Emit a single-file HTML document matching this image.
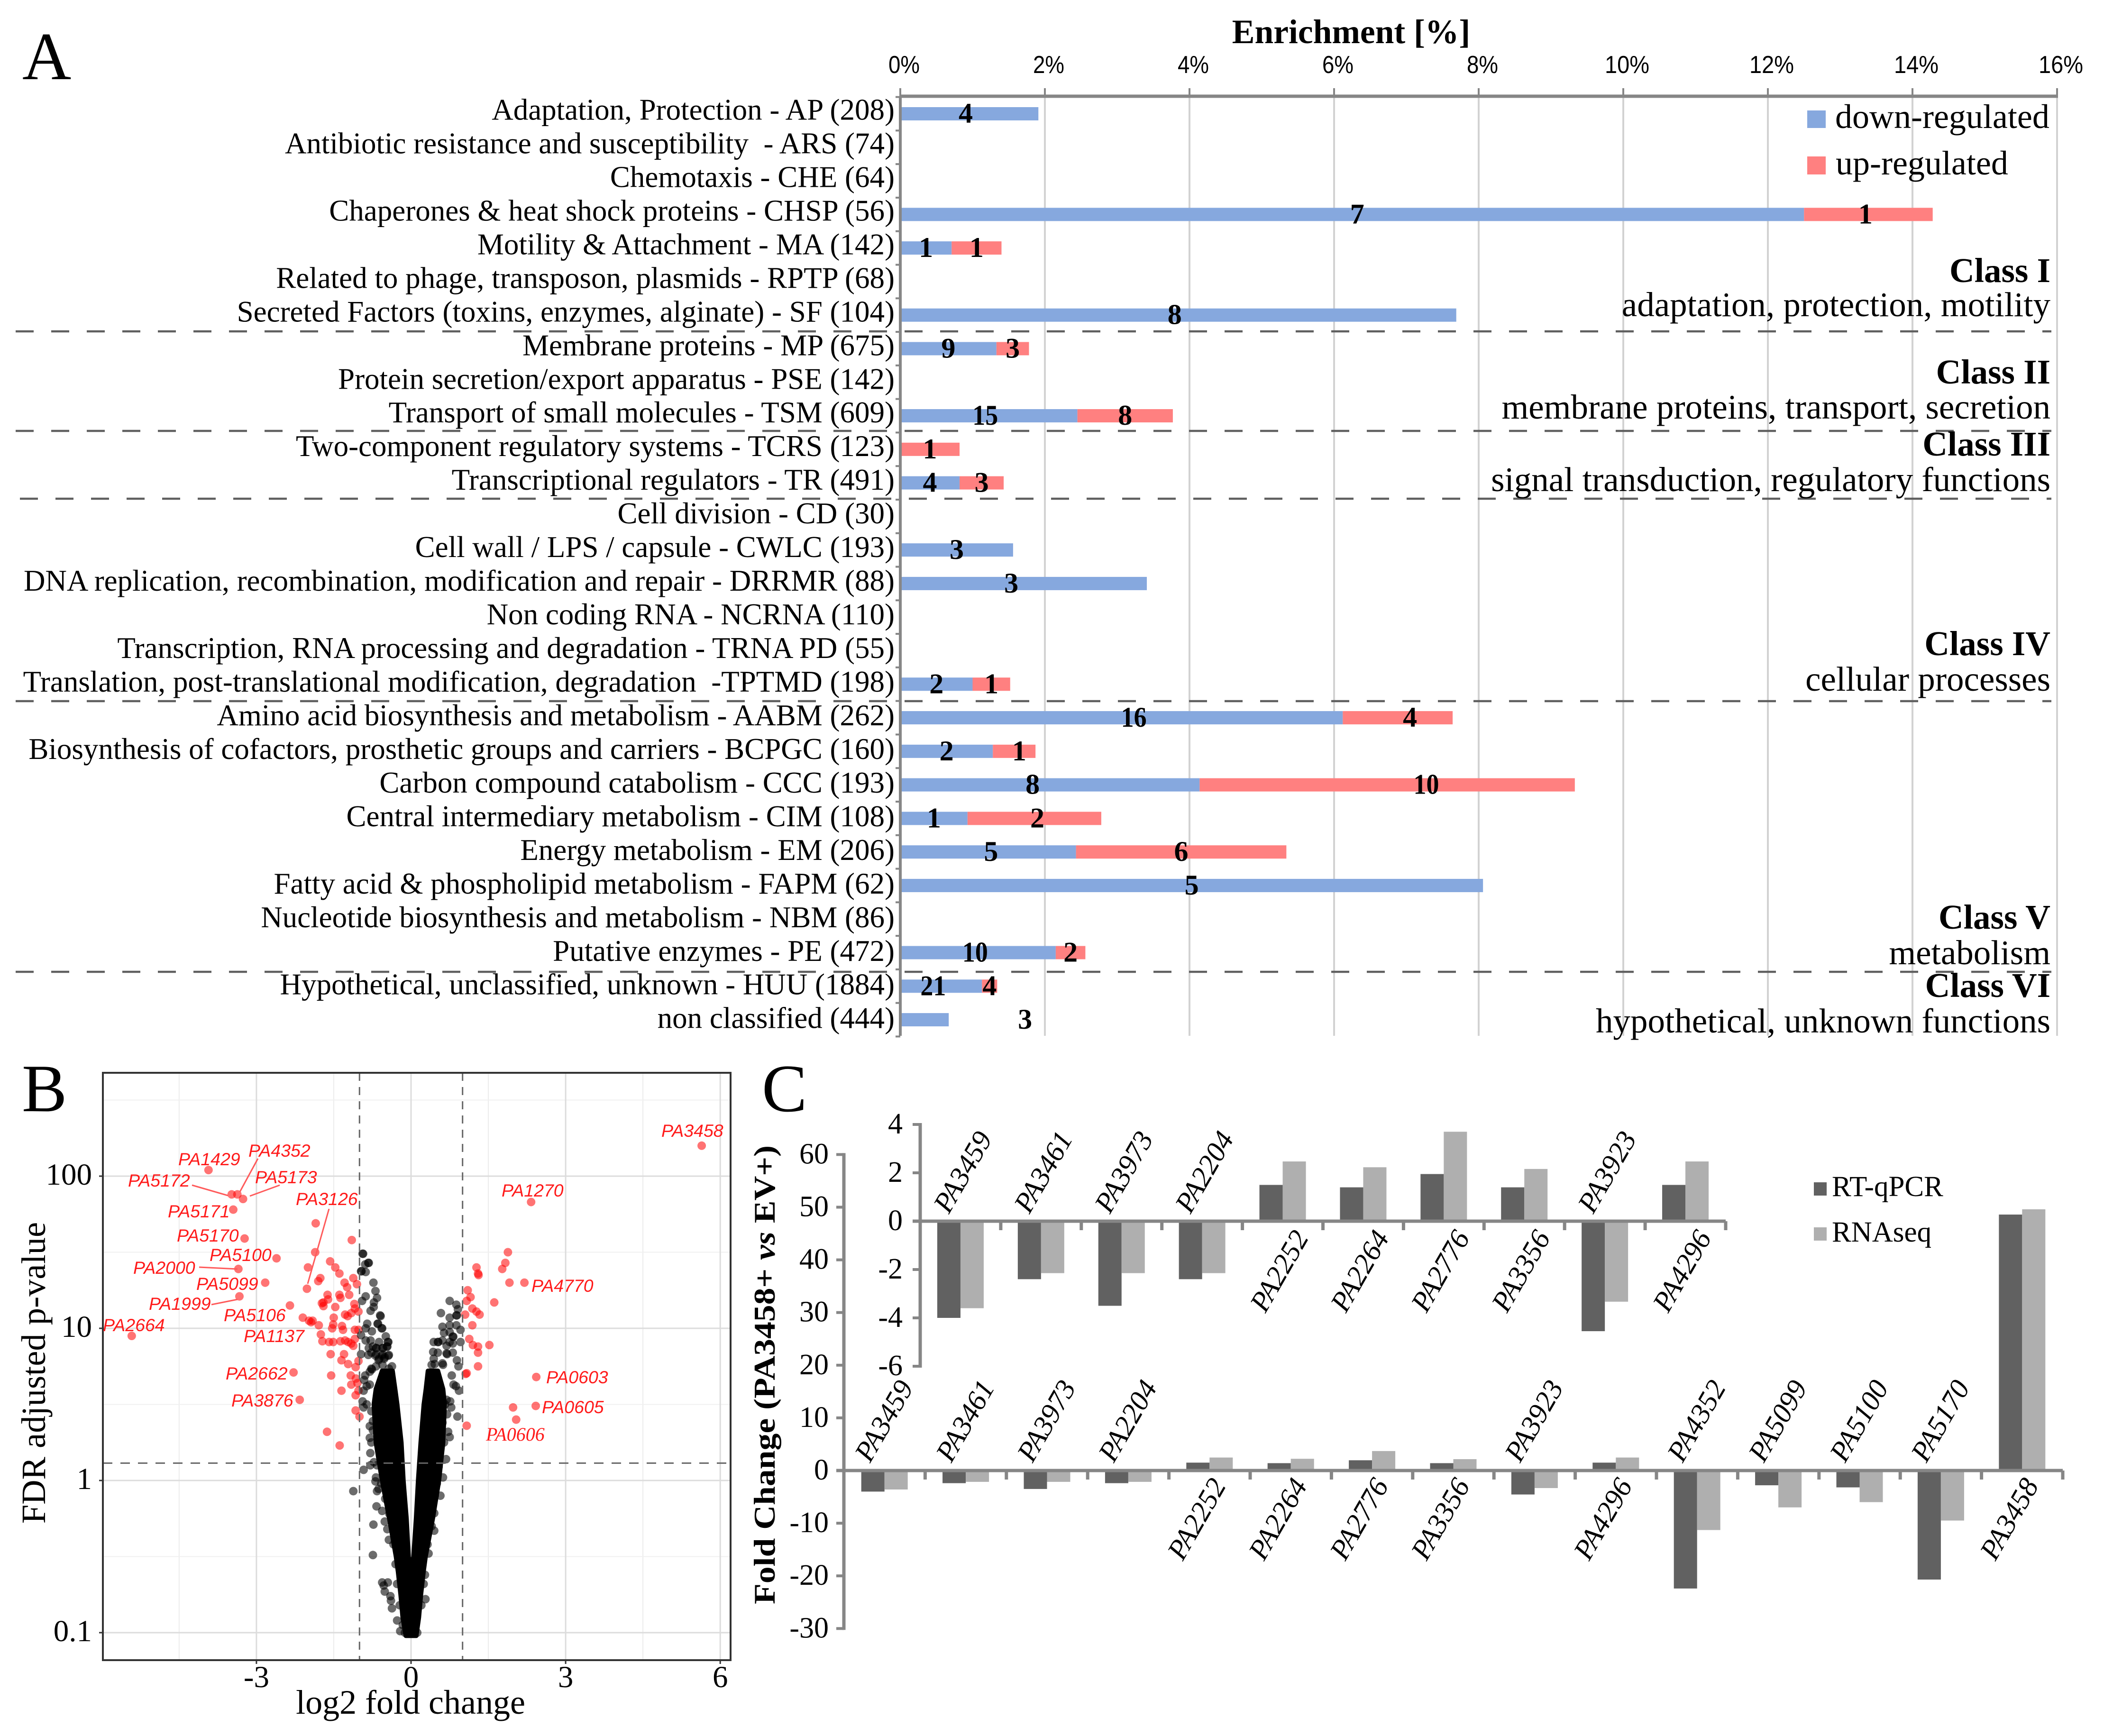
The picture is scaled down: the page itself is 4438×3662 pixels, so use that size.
<!DOCTYPE html>
<html lang="en">
<head>
<meta charset="utf-8">
<title>PA3458 enrichment, volcano plot and fold change figure</title>
<style>
html,body{margin:0;padding:0;background:#fff;}
svg{display:block;font-family:"Liberation Serif",serif;}
text{white-space:pre;}
</style>
</head>
<body>
<svg id="fig" xmlns="http://www.w3.org/2000/svg" width="4438" height="3662" viewBox="0 0 4438 3662">
<rect width="4438" height="3662" fill="#fff"/>

<!-- Panel A static -->
<text x="47" y="167" font-size="143">A</text>
<text x="2850" y="91" font-size="71.5" font-weight="bold" text-anchor="middle">Enrichment [%]</text>
<g id="panelA"></g>
<g stroke="#5f5f5f" stroke-width="4.5" stroke-dasharray="38 37">
<line x1="33" x2="4327" y1="699" y2="699"/>
<line x1="33" x2="4327" y1="909" y2="909"/>
<line x1="42" x2="4327" y1="1052" y2="1052"/>
<line x1="33" x2="4327" y1="1479" y2="1479"/>
<line x1="33" x2="4327" y1="2050" y2="2050"/>
</g>
<g>
<rect x="3812" y="233" width="39" height="37" fill="#86a8de"/>
<text x="3871" y="270" font-size="72">down-regulated</text>
<rect x="3812" y="330" width="39" height="38" fill="#ff8080"/>
<text x="3872" y="368" font-size="72">up-regulated</text>
</g>
<g text-anchor="end" font-size="73">
<text x="4325" y="595" font-weight="bold">Class I</text>
<text x="4325" y="667">adaptation, protection, motility</text>
<text x="4325" y="809" font-weight="bold">Class II</text>
<text x="4325" y="883">membrane proteins, transport, secretion</text>
<text x="4325" y="961" font-weight="bold">Class III</text>
<text x="4325" y="1036">signal transduction, regulatory functions</text>
<text x="4325" y="1382" font-weight="bold">Class IV</text>
<text x="4325" y="1457">cellular processes</text>
<text x="4325" y="1959" font-weight="bold">Class V</text>
<text x="4325" y="2034">metabolism</text>
<text x="4325" y="2103" font-weight="bold">Class VI</text>
<text x="4325" y="2178">hypothetical, unknown functions</text>
</g>

<!-- Panel B static -->
<text x="46" y="2344" font-size="143">B</text>
<text x="866" y="3615" font-size="72" text-anchor="middle">log2 fold change</text>
<text transform="translate(95,2896) rotate(-90)" font-size="72.5" text-anchor="middle">FDR adjusted p-value</text>
<g id="panelB"></g>
<g stroke="#ff5a5a" stroke-width="3" fill="none">
<line x1="405" y1="2500" x2="481" y2="2522"/>
<line x1="544" y1="2444" x2="506" y2="2514"/>
<line x1="590" y1="2500" x2="527" y2="2523"/>
<line x1="694" y1="2550" x2="649" y2="2708"/>
<line x1="420" y1="2673" x2="501" y2="2677"/>
<line x1="446" y1="2752" x2="501" y2="2741"/>
</g>
<g font-family="'Liberation Sans',sans-serif" font-style="italic" font-size="37.5" fill="#ff1a1a">
<text x="1395" y="2398">PA3458</text>
<text x="376" y="2458">PA1429</text>
<text x="524" y="2440">PA4352</text>
<text x="270" y="2503">PA5172</text>
<text x="538" y="2496">PA5173</text>
<text x="624" y="2542">PA3126</text>
<text x="1058" y="2524">PA1270</text>
<text x="354" y="2568">PA5171</text>
<text x="373" y="2619">PA5170</text>
<text x="442" y="2660">PA5100</text>
<text x="281" y="2687">PA2000</text>
<text x="414" y="2721">PA5099</text>
<text x="1121" y="2725">PA4770</text>
<text x="314" y="2763">PA1999</text>
<text x="472" y="2787">PA5106</text>
<text x="217" y="2808">PA2664</text>
<text x="514" y="2831">PA1137</text>
<text x="476" y="2910">PA2662</text>
<text x="1152" y="2918">PA0603</text>
<text x="488" y="2967">PA3876</text>
<text x="1143" y="2981">PA0605</text>
<text x="1025" y="3039" font-family="'Liberation Serif',serif" font-size="40">PA0606</text>
</g>

<!-- Panel C static -->
<text x="1607" y="2344" font-size="143">C</text>
<text transform="translate(1634,2900) rotate(-90)" font-size="64" font-weight="bold" text-anchor="middle" textLength="968" lengthAdjust="spacingAndGlyphs">Fold Change (PA3458+ <tspan font-style="italic">vs</tspan> EV+)</text>
<g id="panelC"></g>
<g>
<rect x="3826" y="2494" width="27" height="28" fill="#616161"/>
<text x="3864" y="2523" font-size="61">RT-qPCR</text>
<rect x="3826" y="2589" width="27" height="28" fill="#afafaf"/>
<text x="3864" y="2619" font-size="61">RNAseq</text>
</g>
</svg>

<script>
/* ---------- Panel A data ---------- */
const categories = [
"Adaptation, Protection - AP (208)","Antibiotic resistance and susceptibility  - ARS (74)","Chemotaxis - CHE (64)",
"Chaperones & heat shock proteins - CHSP (56)","Motility & Attachment - MA (142)","Related to phage, transposon, plasmids - RPTP (68)",
"Secreted Factors (toxins, enzymes, alginate) - SF (104)","Membrane proteins - MP (675)","Protein secretion/export apparatus - PSE (142)",
"Transport of small molecules - TSM (609)","Two-component regulatory systems - TCRS (123)","Transcriptional regulators - TR (491)",
"Cell division - CD (30)","Cell wall / LPS / capsule - CWLC (193)","DNA replication, recombination, modification and repair - DRRMR (88)",
"Non coding RNA - NCRNA (110)","Transcription, RNA processing and degradation - TRNA PD (55)",
"Translation, post-translational modification, degradation  -TPTMD (198)","Amino acid biosynthesis and metabolism - AABM (262)",
"Biosynthesis of cofactors, prosthetic groups and carriers - BCPGC (160)","Carbon compound catabolism - CCC (193)",
"Central intermediary metabolism - CIM (108)","Energy metabolism - EM (206)","Fatty acid & phospholipid metabolism - FAPM (62)",
"Nucleotide biosynthesis and metabolism - NBM (86)","Putative enzymes - PE (472)","Hypothetical, unclassified, unknown - HUU (1884)","non classified (444)"];
const downEnrichment = [1.91,0,0,12.5,0.71,0,7.69,1.33,0,2.45,0,0.82,0,1.56,3.41,0,0,1.0,6.12,1.28,4.14,0.93,2.43,8.06,0,2.15,1.13,0.67];
const upEnrichment =   [0,0,0,1.78,0.69,0,0,0.45,0,1.32,0.82,0.61,0,0,0,0,0,0.52,1.52,0.59,5.19,1.85,2.91,0,0,0.41,0.21,0];
const downCounts = [4,0,0,7,1,0,8,9,0,15,0,4,0,3,3,0,0,2,16,2,8,1,5,5,0,10,21,3];
const upCounts =   [0,0,0,1,1,0,0,3,0,8,1,3,0,0,0,0,0,1,4,1,10,2,6,0,0,2,4,0];
const enrichmentTicks = [0,2,4,6,8,10,12,14,16];

/* ---------- Panel B data (log2 fold change, log10 adjusted p) ---------- */
const volcanoXMajor = [-3,0,3,6];
const volcanoXMinor = [-4.5,-1.5,1.5,4.5];
const volcanoYMajor = [2,1,0,-1];
const volcanoYMinor = [2.5,1.5,0.5,-0.5];
const volcanoYLabels = ["100","10","1","0.1"];
const significanceLine = 1.3;
const foldChangeLines = [-1,1];
const significantLfc = [-3.93,-3.48,-3.37,-3.26,-3.45,-3.23,-2.61,-3.35,-2.83,-3.33,-5.42,-2.35,-1.85,-1.86,-2,-2.02,-1.76,-1.8,-1.57,-1.47,-1.39,-1.15,-1.12,-1.29,-1.24,-1.05,-1.39,-1.37,-1.2,-1.62,-1.61,-1.7,-1.73,-1.7,-1.47,-1.1,-1.28,-1.23,-1.16,-1.09,-1.02,-2.1,-1.98,-1.91,-1.94,-1.79,-1.5,-1.51,-1.53,-1.34,-1.32,-1.75,-1.72,-1.59,-1.51,-1.37,-1.28,-1.22,-1.16,-1.12,-1.09,-1.02,-1.09,-1.56,-1.3,-1.35,-1.22,-1.075,-1.02,-2.28,-1.55,-1.17,-1.07,-1.16,-1.04,-1.35,-1.075,-2.16,-1.075,-1,-1.63,-1.385,-1.02,
5.64,2.33,1.88,1.83,1.77,1.27,1.3,1.31,1.91,2.2,1.1,1.155,1.08,1.615,1.19,1.27,1.33,1.05,1.19,1.13,1.2,1.3,1.3,1.52,1.3,1.06,1.08,2.43,2.42,1.98,2.04,1.08];
const significantLogP = [2.04,1.88,1.88,1.85,1.78,1.59,1.46,1.39,1.3,1.21,0.95,1.15,1.69,1.5,1.4,1.26,1.33,1.31,1.44,1.4,1.36,1.58,1.33,1.3,1.27,1.29,1.22,1.2,1.22,1.22,1.19,1.17,1.165,1.146,1.14,1.16,1.09,1.08,1.1,1.13,1.11,1.07,1.05,1.05,1.04,1.02,1.07,1.025,1,1.015,0.99,0.96,0.915,0.91,0.91,0.915,0.92,0.91,0.9,0.885,0.99,0.99,0.93,0.83,0.83,0.79,0.765,0.745,0.785,0.71,0.69,0.69,0.67,0.63,0.64,0.59,0.56,0.53,0.46,0.42,0.32,0.23,0.59,
2.2,1.83,1.5,1.43,1.39,1.4,1.36,1.35,1.3,1.3,1.25,1.205,1.18,1.17,1.13,1.11,1.09,1.09,1.02,0.93,0.89,0.88,0.84,0.89,0.75,0.7,0.705,0.68,0.49,0.48,0.4,0.36];
const otherLfc = [-0.94,-0.93,-0.83,-0.82,-0.89,-0.97,-0.96,-0.88,-0.73,-0.69,-0.66,-0.88,-0.95,-0.72,-0.725,-0.785,-0.6,-0.59,-0.65,-0.64,-0.57,-0.56,-0.85,-0.76,-0.88,-0.97,-0.49,-0.45,-0.44,-0.88,-0.785,-0.62,-0.68,-0.67,-0.555,-0.54,-0.46,-0.47,-0.74,-0.82,-0.97,-0.83,-0.68,-0.69,-0.555,-0.56,-0.43,-0.44,-0.77,-0.62,-0.63,-0.51,-0.52,-0.37,-0.77,-0.76,-0.68,-0.555,-0.89,-0.91,-0.8,-0.43,-0.92,-0.8,-0.86,-0.94,-0.92,-0.86,-0.8,-0.74,-0.8,-0.77,-0.77,-0.74,
-0.79,-0.79,-0.72,-0.66,-0.92,-0.68,-0.69,-1.12,-0.66,-0.63,-0.67,-0.56,-0.51,-0.73,-0.46,-0.43,-0.74,-0.56,-0.45,-0.53,-0.51,-0.4,-0.39,-0.37,-0.27,-0.21,-0.58,-0.5,-0.42,-0.34,-0.3,-0.27,-0.22,-0.16,-0.12,-0.06,0,0.06,0.12,
0.75,0.88,0.91,0.58,0.75,0.88,0.89,0.61,0.75,0.88,0.96,0.64,0.75,0.81,0.82,0.81,0.96,0.44,0.52,0.53,0.61,0.69,0.75,0.43,0.44,0.52,0.69,0.7,0.81,0.4,0.46,0.61,0.62,0.89,0.92,0.79,0.87,0.93,0.825,0.76,0.69,0.78,0.66,0.9,0.58,0.7,0.61,0.72,0.75,0.64,
0.68,0.535,0.62,0.5,0.57,0.45,0.45,0.34,0.28,0.245,0.52,0.46,0.4,0.32,0.27,0.2];
const otherLogP = [1.49,1.49,1.43,1.43,1.42,1.375,1.375,1.37,1.3,1.245,1.2,1.21,1.18,1.17,1.14,1.115,1.085,1.08,1.03,1.03,1,1,1.03,0.98,1,0.955,0.947,0.91,0.91,0.92,0.92,0.91,0.87,0.87,0.87,0.87,0.88,0.88,0.88,0.87,0.83,0.825,0.83,0.82,0.83,0.82,0.825,0.82,0.84,0.8,0.79,0.81,0.8,0.75,0.735,0.73,0.75,0.76,0.69,0.66,0.715,0.735,0.59,0.63,0.62,0.52,0.48,0.5,0.357,0.33,0.28,0.25,0.455,0.39,
0.18,0.1,0.12,0.1,0.07,0.02,-0.006,-0.07,-0.07,-0.055,-0.17,-0.2,-0.27,-0.29,-0.32,-0.39,-0.49,-0.67,-0.67,-0.69,-0.73,-0.76,-0.79,-0.84,-0.92,-0.99,-0.02,-0.12,-0.22,-0.42,-0.55,-0.68,-0.82,-0.95,-1,-1,-1,-1,-1,
1.18,1.155,1.125,1.1,1.07,1.085,1.085,1.01,1.02,1.02,0.99,0.97,0.975,0.945,0.945,0.9,0.91,0.91,0.91,0.91,0.92,0.885,0.91,0.845,0.8,0.84,0.835,0.83,0.84,0.76,0.765,0.77,0.76,0.79,0.75,0.69,0.62,0.59,0.63,0.52,0.53,0.48,0.5,0.42,0.51,0.435,0.38,0.32,0.285,0.25,
0.14,0.09,0.02,-0.02,-0.1,-0.215,-0.33,-0.48,-0.78,-0.68,0.05,-0.1,-0.3,-0.42,-0.62,-0.82];
/* The overplotted core holds too many overlapping points to read one by one, so its outline is read instead */
const coreLogP =       [-1.02,-0.9,-0.75,-0.6,-0.5,-0.25,0,0.25,0.5,0.6,0.72];
const coreLeftOuter =  [-0.1,-0.16,-0.2,-0.25,-0.29,-0.42,-0.56,-0.68,-0.72,-0.68,-0.56];
const coreLeftInner =  [0,0,0,0,-0.05,-0.09,-0.15,-0.19,-0.27,-0.31,-0.36];
const coreRightInner = [0,0,0,0,0.05,0.1,0.14,0.19,0.25,0.29,0.33];
const coreRightOuter = [0.1,0.15,0.19,0.24,0.28,0.42,0.54,0.62,0.65,0.62,0.52];

/* ---------- Panel C data ---------- */
const genes = ["PA3459","PA3461","PA3973","PA2204","PA2252","PA2264","PA2776","PA3356","PA3923","PA4296","PA4352","PA5099","PA5100","PA5170","PA3458"];
const rtQpcr = [-4,-2.4,-3.5,-2.4,1.5,1.4,1.95,1.4,-4.55,1.5,-22.4,-2.8,-3.2,-20.7,48.6];
const rnaSeq = [-3.6,-2.15,-2.15,-2.15,2.47,2.23,3.7,2.16,-3.33,2.47,-11.3,-7,-6,-9.5,49.6];
const mainTicks = [60,50,40,30,20,10,0,-10,-20,-30];
const insetTicks = [4,2,0,-2,-4,-6];
const insetGeneCount = 10;

/* ---------- helpers ---------- */
const NS = "http://www.w3.org/2000/svg";
function make(tag, parent, attrs) {
  const el = document.createElementNS(NS, tag);
  for (const k in attrs) el.setAttribute(k, attrs[k]);
  parent.appendChild(el);
  return el;
}
function write(parent, str, attrs) {
  const el = make("text", parent, attrs);
  el.textContent = str;
  return el;
}
const slug = s => String(s).toLowerCase().replace(/[^a-z0-9]+/g, "-").replace(/^-|-$/g, "");

/* ---------- Panel A ---------- */
(function () {
  const root = document.getElementById("panelA");
  const vx = v => 1899 + v * 152.5;
  const ry = i => 240 + i * 70.78;
  const textY = i => 252.5 + i * 70.97;
  const left = 1899, top = 203, bottom = 2185;
  /* count labels are hand-placed near their segment midpoint in the source; small shifts in % units */
  const downShift = {0:-0.05,3:0.07,6:-0.05,9:-0.05,14:-0.17,18:0.17,20:-0.24,22:0.04,25:-0.04,26:-0.11};
  const upShift = {3:-0.04,18:0.17,19:0.07,20:0.54,21:0.04};

  enrichmentTicks.forEach(t => {
    if (t > 0) {
      const g = make("line", root, {x1: vx(t), x2: vx(t), y1: top, y2: bottom, stroke: "#d2d2d2", "stroke-width": 4});
      
      
    }
    const tick = make("line", root, {x1: vx(t), x2: vx(t), y1: 186, y2: top, stroke: "#868686", "stroke-width": 4});
    
    
    const label = t + "%";
    const lab = write(root, label, {x: vx(t) + 8, y: 154, "font-size": 52, "font-family": "'Liberation Sans',sans-serif", "text-anchor": "middle", textLength: label.length === 2 ? 66 : 94, lengthAdjust: "spacingAndGlyphs"});
    
    
  });

  categories.forEach((name, i) => {
    const y = ry(i), d = downEnrichment[i], u = upEnrichment[i];
    const lab = write(root, name, {x: 1887, y: textY(i), "font-size": 63, "text-anchor": "end"});
    
    
    if (d > 0) {
      const b = make("rect", root, {x: vx(0), y: y - 14, width: vx(d) - vx(0), height: 28, fill: "#86a8de"});
      
      
    }
    if (u > 0) {
      const b = make("rect", root, {x: vx(d), y: y - 14, width: vx(d + u) - vx(d), height: 28, fill: "#ff8080"});
      
      
    }
  });

  const countAttrs = (v, x, y) => {
    const a = {x: x, y: y + 19, "font-size": 60, "font-weight": "bold", "text-anchor": "middle"};
    if (String(v).length > 1) { a.textLength = 54; a.lengthAdjust = "spacingAndGlyphs"; }
    return a;
  };
  categories.forEach((name, i) => {
    const y = ry(i), d = downEnrichment[i], u = upEnrichment[i];
    if (downCounts[i]) {
      /* the last row's count sits to the right of its short bar */
      const at = i === categories.length - 1 ? d + 1.055 : d / 2 + (downShift[i] || 0);
      const c = write(root, downCounts[i], countAttrs(downCounts[i], vx(at), y));
      
      
    }
    if (upCounts[i]) {
      const c = write(root, upCounts[i], countAttrs(upCounts[i], vx(d + u / 2 + (upShift[i] || 0)), y));
      
      
    }
  });

  for (let i = 0; i <= categories.length; i++) {
    const t = make("line", root, {x1: 1889, x2: left, y1: ry(i - 0.5), y2: ry(i - 0.5), stroke: "#868686", "stroke-width": 4});
    
    
  }
  const ya = make("line", root, {x1: left, x2: left, y1: top, y2: bottom, stroke: "#868686", "stroke-width": 6});
  
  
  const xa = make("line", root, {x1: left, x2: vx(16) + 2, y1: top, y2: top, stroke: "#868686", "stroke-width": 7});
  
  
})();

/* ---------- Panel B ---------- */
(function () {
  const root = document.getElementById("panelB");
  const px = v => 867 + v * 108.7;
  const py = v => 3123 - v * 321;
  const L = 217, R = 1541, T = 2263, B = 3502;

  volcanoXMinor.forEach(v => {
    const g = make("line", root, {x1: px(v), x2: px(v), y1: T, y2: B, stroke: "#ececec", "stroke-width": 2});
    
    
  });
  volcanoYMinor.forEach(v => {
    const g = make("line", root, {x1: L, x2: R, y1: py(v), y2: py(v), stroke: "#f0f0f0", "stroke-width": 2});
    
    
  });
  volcanoXMajor.forEach(v => {
    const g = make("line", root, {x1: px(v), x2: px(v), y1: T, y2: B, stroke: "#dcdcdc", "stroke-width": 3});
    
    
    const t = make("line", root, {x1: px(v), x2: px(v), y1: B, y2: B + 8, stroke: "#333", "stroke-width": 3});
    
    
    const lab = write(root, v, {x: px(v), y: 3559, "font-size": 65, "text-anchor": "middle"});
    
    
  });
  volcanoYMajor.forEach((v, i) => {
    const g = make("line", root, {x1: L, x2: R, y1: py(v), y2: py(v), stroke: "#dcdcdc", "stroke-width": 3});
    
    
    const t = make("line", root, {x1: L - 8, x2: L, y1: py(v), y2: py(v), stroke: "#333", "stroke-width": 3});
    
    
    const lab = write(root, volcanoYLabels[i], {x: 194, y: py(v) + 18, "font-size": 65, "text-anchor": "end"});
    
    
  });

  significantLfc.forEach((v, i) => {
    const c = make("circle", root, {cx: px(v), cy: py(significantLogP[i]), r: 9, fill: "#ff0000", "fill-opacity": 0.55});
    
    
  });
  otherLfc.forEach((v, i) => {
    const c = make("circle", root, {cx: px(v), cy: py(otherLogP[i]), r: 9, fill: "#000", "fill-opacity": 0.58});
    
    
  });
  const n = coreLogP.length, pts = [];
  for (let i = 0; i < n; i++) pts.push(px(coreLeftOuter[i]) + "," + py(coreLogP[i]));
  for (let i = n - 1; i >= 0; i--) pts.push(px(coreLeftInner[i]) + "," + py(coreLogP[i]));
  for (let i = 0; i < n; i++) pts.push(px(coreRightInner[i]) + "," + py(coreLogP[i]));
  for (let i = n - 1; i >= 0; i--) pts.push(px(coreRightOuter[i]) + "," + py(coreLogP[i]));
  const core = make("polygon", root, {points: pts.join(" "), fill: "#000", stroke: "#000", "stroke-width": 10, "stroke-linejoin": "round"});
  
  

  foldChangeLines.forEach(v => {
    const d = make("line", root, {x1: px(v), x2: px(v), y1: T, y2: B, stroke: "#666", "stroke-width": 3, "stroke-dasharray": "17 13"});
    
    
  });
  const sy = py(Math.log10(significanceLine));
  const h = make("line", root, {x1: L, x2: R, y1: sy, y2: sy, stroke: "#666", "stroke-width": 3, "stroke-dasharray": "20 17"});
  
  
  const box = make("rect", root, {x: L, y: T, width: R - L, height: B - T, fill: "none", stroke: "#333", "stroke-width": 4});
  
  
})();

/* ---------- Panel C ---------- */
function drawBars(root, prefix, n, axisLeft, axisRight, zero, unit, ticks, tickTop, tickBottom, barW, labelRight, negShift, posShift, negRise, posDrop) {
  const bandW = (axisRight - axisLeft) / n;
  const vy = v => zero - v * unit;
  const cx = i => axisLeft + bandW * (i + 0.5);
  ticks.forEach(t => {
    const m = make("line", root, {x1: axisLeft - 16, x2: axisLeft, y1: vy(t), y2: vy(t), stroke: "#868686", "stroke-width": 6});
    
    
    const lab = write(root, t, {x: labelRight, y: vy(t) + 19, "font-size": 62, "text-anchor": "end"});
    
    
  });
  for (let i = 0; i < n; i++) {
    const a = rtQpcr[i], b = rnaSeq[i];
    const d = make("rect", root, {x: cx(i) - barW, y: Math.min(vy(a), zero), width: barW, height: Math.abs(vy(a) - zero), fill: "#616161"});
    
    
    const l = make("rect", root, {x: cx(i), y: Math.min(vy(b), zero), width: barW, height: Math.abs(vy(b) - zero), fill: "#afafaf"});
    
    
    const neg = a < 0;
    const lx = cx(i) + (neg ? negShift : posShift), ly = neg ? zero - negRise : zero + posDrop;
    const lab = write(root, genes[i], {x: 0, y: 0, "font-size": 60, "font-style": "italic", "text-anchor": "middle", "dominant-baseline": "middle", transform: "translate(" + lx + "," + ly + ") rotate(-60)"});
    
    
  }
  for (let i = 0; i <= n; i++) {
    const x = axisLeft + bandW * i;
    const m = make("line", root, {x1: x, x2: x, y1: zero, y2: zero + 19, stroke: "#868686", "stroke-width": 7});
    
    
  }
  const xa = make("line", root, {x1: axisLeft - 16, x2: axisRight, y1: zero, y2: zero, stroke: "#868686", "stroke-width": 7});
  
  
  const ya = make("line", root, {x1: axisLeft, x2: axisLeft, y1: vy(tickTop) - 3, y2: vy(tickBottom) + 3, stroke: "#868686", "stroke-width": 7});
  
  
}
(function () {
  const root = document.getElementById("panelC");
  drawBars(root, "main", genes.length, 1780, 4351, 3102, 11.11, mainTicks, 60, -30, 49, 1748, 4, -22, 102, 105);
  drawBars(root, "inset", insetGeneCount, 1941, 3640, 2576, 51, insetTicks, 4, -6, 49, 1904, 10, -2, 101, 108);
})();
</script>
</body>
</html>
